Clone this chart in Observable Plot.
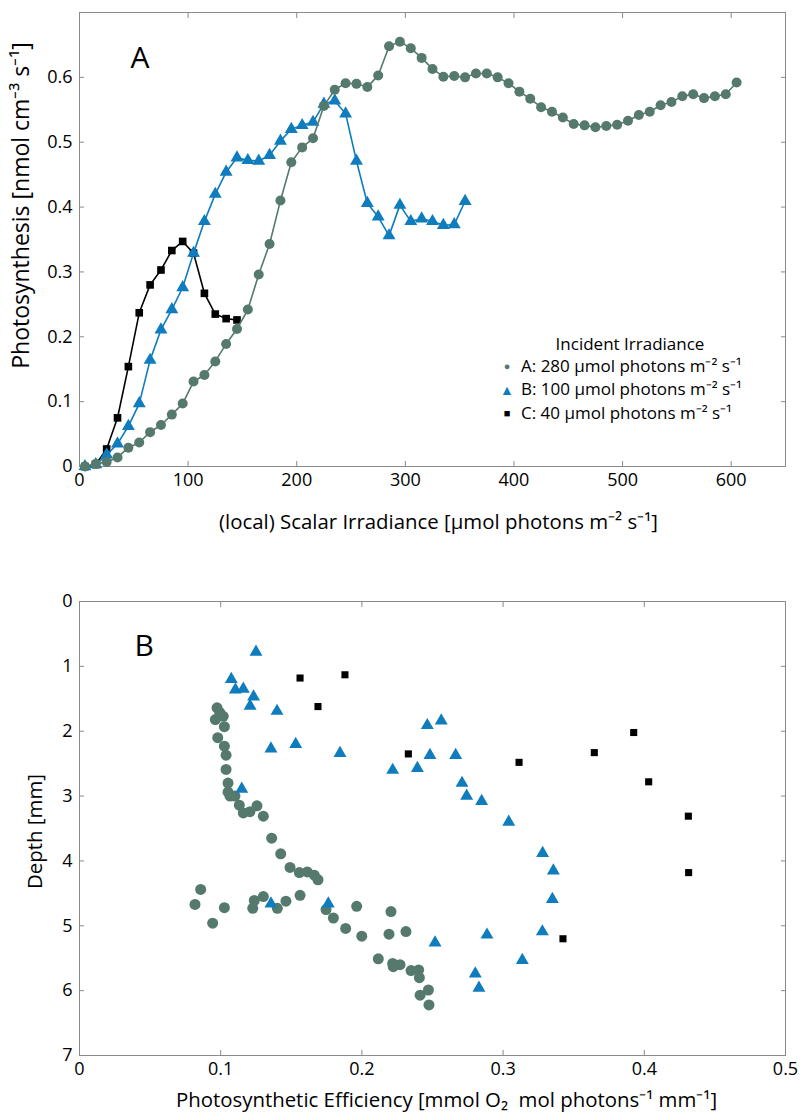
<!DOCTYPE html>
<html><head><meta charset="utf-8">
<script src="https://cdn.jsdelivr.net/npm/d3@7"></script>
<script src="https://cdn.jsdelivr.net/npm/@observablehq/plot@0.6"></script>
<style>
body{margin:0;background:#fff;font-family:"Open Sans",sans-serif}
#wrap{position:relative;width:800px;height:1117px;overflow:hidden}
#wrap svg{display:block}
.lg{position:absolute;font-size:17px;color:#000;white-space:nowrap;line-height:1}
.sym{position:absolute;line-height:1;text-align:center;width:20px}
</style></head><body><div id="wrap"></div>
<script>
// ---------- Panel A data ----------
const irrA = [5,15,25,35,45,55,65,75,85,95,105,115,125,135,145,155,165,175,185,195,205,215,225,235,245,255,265,275,285,295,305,315,325,335,345,355,365,375,385,395,405,415,425,435,445,455,465,475,485,495,505,515,525,535,545,555,565,575,585,595,605];
const photA = [0.000,0.004,0.007,0.014,0.029,0.037,0.053,0.064,0.080,0.097,0.131,0.141,0.162,0.189,0.212,0.242,0.296,0.343,0.410,0.469,0.492,0.506,0.556,0.581,0.591,0.590,0.585,0.603,0.648,0.655,0.645,0.630,0.613,0.601,0.602,0.600,0.606,0.606,0.600,0.591,0.578,0.567,0.554,0.547,0.538,0.528,0.526,0.523,0.525,0.527,0.533,0.542,0.547,0.557,0.562,0.571,0.574,0.568,0.571,0.574,0.592];
const irrB = [5,15,25,35,45,55,65,75,85,95,105,115,125,135,145,155,165,175,185,195,205,215,225,235,245,255,265,275,285,295,305,315,325,335,345,355];
const photB = [0.000,0.003,0.018,0.035,0.062,0.097,0.164,0.211,0.242,0.276,0.329,0.378,0.420,0.454,0.476,0.472,0.471,0.480,0.502,0.520,0.526,0.531,0.559,0.564,0.544,0.471,0.406,0.385,0.356,0.403,0.378,0.382,0.378,0.372,0.373,0.409];
const irrC = [5,15,25,35,45,55,65,75,85,95,105,115,125,135,145];
const photC = [0.000,0.003,0.027,0.075,0.154,0.237,0.280,0.303,0.333,0.347,0.329,0.267,0.235,0.228,0.226];
const xTicksA = [0,100,200,300,400,500,600];
const yTicksA = [0,0.1,0.2,0.3,0.4,0.5,0.6];

// ---------- Panel B data ----------
const effA = [0.0974,0.0993,0.1018,0.0962,0.1026,0.0979,0.1026,0.1038,0.1038,0.1052,0.1052,0.1066,0.1101,0.1132,0.1160,0.1207,0.1257,0.1302,0.1361,0.1425,0.1491,0.1557,0.1613,0.1663,0.1689,0.1746,0.1798,0.1885,0.0858,0.0818,0.1026,0.0943,0.1238,0.1227,0.1302,0.1401,0.1462,0.1562,0.1963,0.2206,0.1999,0.2192,0.2312,0.2116,0.2218,0.2222,0.2270,0.2348,0.2402,0.2407,0.2471,0.2412,0.2475];
const depA = [1.64,1.71,1.77,1.82,1.93,2.10,2.23,2.37,2.59,2.80,2.94,3.00,3.00,3.14,3.26,3.24,3.15,3.31,3.65,3.89,4.10,4.18,4.17,4.22,4.29,4.75,4.88,5.04,4.44,4.67,4.72,4.96,4.61,4.73,4.55,4.73,4.62,4.53,4.70,4.78,5.16,5.13,5.09,5.51,5.58,5.63,5.60,5.69,5.68,5.80,5.99,6.07,6.22];
const effB = [0.1250,0.1075,0.1104,0.1160,0.1233,0.1208,0.1399,0.1356,0.1531,0.1845,0.1149,0.1356,0.1762,0.2463,0.2562,0.2218,0.2393,0.2482,0.2664,0.2709,0.2742,0.2848,0.3040,0.3280,0.3356,0.3349,0.3278,0.2518,0.2886,0.3136,0.2803,0.2829];
const depB = [0.78,1.20,1.36,1.35,1.47,1.61,1.69,2.27,2.20,2.34,2.89,4.66,4.66,1.91,1.84,2.60,2.57,2.37,2.37,2.80,3.00,3.08,3.40,3.88,4.15,4.59,5.09,5.26,5.14,5.53,5.74,5.96];
const effC = [0.1562,0.1880,0.1689,0.2329,0.3113,0.3646,0.3925,0.4031,0.4312,0.4314,0.3424];
const depC = [1.18,1.13,1.62,2.35,2.48,2.33,2.02,2.78,3.31,4.18,5.20];
const xTicksB = [0,0.1,0.2,0.3,0.4,0.5];
const yTicksB = [0,1,2,3,4,5,6,7];

const legendTitle = "Incident Irradiance";
const legendLabels = ["A: 280 μmol photons m⁻² s⁻¹","B: 100 μmol photons m⁻² s⁻¹","C: 40 μmol photons m⁻² s⁻¹"];

const cA = "#557a6d", cB = "#0e7cbd", cC = "#000000";
const FRAME = "#8a8a8a";
const FONT = "'Open Sans', sans-serif";

const zip = (xs, ys) => xs.map((x, i) => ({x, y: ys[i]}));
const dA = zip(irrA, photA), dB = zip(irrB, photB), dC = zip(irrC, photC);
const pA = zip(effA, depA), pB = zip(effB, depB), pC = zip(effC, depC);
const fmt = d => String(d);

const style = {fontFamily: FONT, fontSize: "18px", color: "#000", background: "#fff", overflow: "visible"};

function frameAxes(xt, yt) {
  return [
    Plot.frame({stroke: FRAME}),
    Plot.axisX(xt, {anchor: "bottom", tickSize: -5, tickPadding: 12, stroke: FRAME, tickFormat: fmt, label: null}),
    Plot.axisX(xt, {anchor: "top", tickSize: -5, stroke: FRAME, tickFormat: () => "", label: null}),
    Plot.axisY(yt, {anchor: "left", tickSize: -5, tickPadding: 12, stroke: FRAME, tickFormat: fmt, label: null}),
    Plot.axisY(yt, {anchor: "right", tickSize: -5, stroke: FRAME, tickFormat: () => "", label: null})
  ];
}

const LBL = 20.4;

const chartA = Plot.plot({
  width: 800, height: 530,
  marginLeft: 79, marginRight: 15, marginTop: 12, marginBottom: 64,
  style,
  x: {domain: [0, 650]},
  y: {domain: [0, 0.7]},
  marks: [
    ...frameAxes(xTicksA, yTicksA),
    Plot.line(dC, {x: "x", y: "y", stroke: cC, strokeWidth: 1.6}),
    Plot.dot(dC, {x: "x", y: "y", symbol: "square", r: 4.3, fill: cC}),
    Plot.line(dB, {x: "x", y: "y", stroke: cB, strokeWidth: 1.6}),
    Plot.dot(dB, {x: "x", y: "y", symbol: "triangle", r: 4.8, fill: cB}),
    Plot.line(dA, {x: "x", y: "y", stroke: cA, strokeWidth: 1.6}),
    Plot.dot(dA, {x: "x", y: "y", symbol: "circle", r: 5, fill: cA}),
    Plot.text(["A"], {frameAnchor: "top-left", dx: 51, dy: 46, fontSize: 30, textAnchor: "start", lineAnchor: "middle"}),
    Plot.text(["(local) Scalar Irradiance [μmol photons m⁻² s⁻¹]"], {frameAnchor: "bottom", dy: 56, dx: 6, fontSize: LBL, textAnchor: "middle", lineAnchor: "middle"}),
    Plot.text(["Photosynthesis [nmol cm⁻³ s⁻¹]"], {frameAnchor: "left", dx: -58, dy: -34, rotate: -90, fontSize: 23, textAnchor: "middle", lineAnchor: "middle"})
  ]
});

const chartB = Plot.plot({
  width: 800, height: 587,
  marginLeft: 79, marginRight: 15, marginTop: 71, marginBottom: 62,
  style,
  x: {domain: [0, 0.5]},
  y: {domain: [0, 7], reverse: true},
  marks: [
    ...frameAxes(xTicksB, yTicksB),
    Plot.dot(pA, {x: "x", y: "y", symbol: "circle", r: 5.5, fill: cA}),
    Plot.dot(pB, {x: "x", y: "y", symbol: "triangle", r: 4.8, fill: cB}),
    Plot.dot(pC, {x: "x", y: "y", symbol: "square", r: 4, fill: cC}),
    Plot.text(["B"], {frameAnchor: "top-left", dx: 55, dy: 45, fontSize: 30, textAnchor: "start", lineAnchor: "middle"}),
    Plot.text(["Photosynthetic Efficiency [mmol O₂  mol photons⁻¹ mm⁻¹]"], {frameAnchor: "bottom", dy: 45, dx: 14, fontSize: LBL, textAnchor: "middle", lineAnchor: "middle"}),
    Plot.text(["Depth [mm]"], {frameAnchor: "left", dx: -44, dy: 3, rotate: -90, fontSize: LBL, textAnchor: "middle", lineAnchor: "middle"})
  ]
});

const wrap = document.getElementById("wrap");
wrap.appendChild(chartA);
wrap.appendChild(chartB);

// legend (inside panel A)
function addDiv(cls, text, css) {
  const d = document.createElement("div");
  d.className = cls; d.textContent = text;
  Object.assign(d.style, css);
  wrap.appendChild(d);
  return d;
}
addDiv("lg", legendTitle, {left: "630px", top: "335px", transform: "translateX(-50%)"});
const syms = [["●", cA, "11px"], ["▲", cB, "14px"], ["■", cC, "11px"]];
legendLabels.forEach((lab, i) => {
  const top = 357 + i * 23.3;
  addDiv("lg", lab, {left: "521px", top: top + "px"});
  addDiv("sym", syms[i][0], {left: "497px", top: (top + 3) + "px", color: syms[i][1], fontSize: syms[i][2]});
});
</script></body></html>
